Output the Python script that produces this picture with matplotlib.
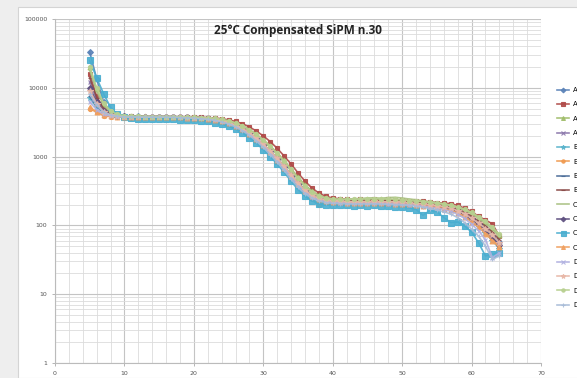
import numpy as np
import matplotlib.pyplot as plt
from matplotlib.patches import Rectangle

# voltage steps 5..64
x = np.arange(5, 65)

A1 = [33000, 13500, 6200, 4500, 4000, 3880, 3820, 3850, 3800, 3780,
      3820, 3790, 3800, 3760, 3730, 3690, 3660, 3580, 3480, 3320,
      3120, 2870, 2560, 2200, 1850, 1500, 1200, 950, 730, 540,
      420, 330, 280, 250, 232, 226, 228, 218, 222, 216,
      224, 220, 218, 224, 214, 218, 210, 214, 202, 198,
      192, 188, 176, 168, 146, 128, 104, 92, 70, 58]
A2 = [16000, 7500, 5000, 4200, 3950, 3880, 3850, 3820, 3800, 3820,
      3790, 3810, 3800, 3790, 3760, 3740, 3720, 3690, 3640, 3560,
      3420, 3250, 3000, 2700, 2350, 2000, 1650, 1320, 1020, 780,
      580, 440, 350, 295, 265, 250, 244, 240, 236, 238,
      234, 240, 236, 238, 232, 235, 228, 230, 224, 220,
      215, 210, 208, 195, 178, 160, 135, 120, 105, 70]
A3 = [20000, 9500, 5800, 4500, 4050, 3900, 3860, 3820, 3830, 3800,
      3810, 3800, 3790, 3770, 3750, 3720, 3690, 3650, 3580, 3460,
      3300, 3080, 2800, 2470, 2120, 1760, 1430, 1130, 880, 660,
      500, 390, 315, 275, 252, 242, 238, 236, 232, 234,
      238, 236, 240, 236, 230, 228, 224, 222, 218, 214,
      208, 202, 194, 182, 168, 150, 130, 112, 92, 72]
A4 = [12000, 6800, 4800, 4200, 3950, 3870, 3830, 3800, 3780, 3790,
      3800, 3780, 3770, 3740, 3710, 3680, 3640, 3580, 3470, 3320,
      3110, 2860, 2550, 2200, 1840, 1490, 1190, 930, 710, 530,
      410, 325, 275, 248, 230, 224, 220, 218, 216, 218,
      216, 220, 216, 214, 214, 210, 208, 204, 200, 196,
      190, 184, 174, 160, 144, 122, 104, 86, 68, 52]
B1 = [7000, 5200, 4300, 4000, 3850, 3800, 3780, 3760, 3740, 3760,
      3750, 3740, 3730, 3700, 3660, 3620, 3560, 3490, 3370, 3200,
      2980, 2720, 2400, 2050, 1700, 1360, 1080, 840, 640, 480,
      370, 300, 258, 235, 222, 216, 214, 212, 210, 212,
      210, 214, 210, 208, 206, 204, 200, 196, 192, 188,
      182, 176, 166, 152, 136, 114, 96, 78, 60, 46]
B2 = [5000, 4400, 3950, 3800, 3780, 3760, 3780, 3770, 3760, 3780,
      3790, 3770, 3760, 3740, 3700, 3670, 3620, 3560, 3450, 3300,
      3090, 2830, 2520, 2160, 1800, 1460, 1170, 910, 700, 520,
      400, 310, 240, 200, 215, 220, 218, 216, 214, 212,
      212, 216, 214, 212, 210, 208, 206, 202, 198, 194,
      188, 182, 172, 158, 140, 120, 100, 82, 64, 48]
B3 = [7500, 5400, 4400, 4050, 3900, 3830, 3800, 3790, 3780, 3790,
      3780, 3780, 3760, 3730, 3700, 3660, 3620, 3560, 3460, 3310,
      3100, 2850, 2540, 2190, 1830, 1480, 1180, 920, 710, 530,
      410, 325, 275, 248, 232, 226, 222, 220, 218, 220,
      218, 222, 218, 218, 216, 212, 210, 206, 202, 198,
      192, 186, 176, 162, 146, 124, 106, 88, 70, 54]
B4 = [14000, 7200, 5000, 4250, 3980, 3880, 3840, 3810, 3800, 3800,
      3800, 3800, 3790, 3770, 3740, 3720, 3690, 3650, 3570, 3450,
      3280, 3050, 2770, 2430, 2080, 1720, 1390, 1100, 850, 640,
      480, 375, 305, 268, 246, 236, 232, 230, 228, 228,
      230, 232, 228, 228, 226, 222, 218, 216, 212, 206,
      200, 194, 184, 172, 156, 136, 116, 98, 80, 62]
C1 = [18000, 9000, 5600, 4400, 4000, 3880, 3850, 3830, 3810, 3800,
      3800, 3800, 3790, 3760, 3740, 3710, 3680, 3640, 3560, 3430,
      3260, 3030, 2740, 2400, 2040, 1680, 1360, 1070, 830, 620,
      470, 365, 300, 264, 245, 238, 236, 240, 244, 246,
      250, 252, 248, 254, 256, 250, 242, 236, 228, 220,
      214, 206, 196, 184, 168, 148, 128, 108, 88, 68]
C2 = [10000, 6200, 4600, 4100, 3900, 3840, 3810, 3790, 3780, 3780,
      3790, 3780, 3770, 3740, 3710, 3680, 3630, 3570, 3470, 3320,
      3110, 2860, 2550, 2200, 1840, 1490, 1190, 930, 710, 530,
      405, 320, 272, 246, 230, 224, 220, 220, 218, 220,
      218, 220, 218, 216, 214, 212, 208, 206, 200, 196,
      190, 184, 176, 160, 144, 122, 104, 86, 68, 52]
C3 = [25000, 14000, 8200, 5200, 4100, 3750, 3600, 3550, 3520, 3500,
      3480, 3500, 3480, 3450, 3420, 3380, 3320, 3240, 3120, 2960,
      2760, 2500, 2200, 1880, 1560, 1260, 1000, 780, 590, 440,
      330, 265, 228, 205, 196, 200, 195, 198, 194, 196,
      192, 196, 190, 194, 188, 186, 180, 170, 140, 165,
      158, 130, 110, 112, 98, 80, 56, 36, 38, 40]
C4 = [5200, 4500, 4000, 3850, 3800, 3780, 3790, 3780, 3770, 3780,
      3780, 3770, 3760, 3730, 3700, 3660, 3610, 3550, 3440, 3290,
      3080, 2820, 2510, 2160, 1800, 1460, 1160, 900, 690, 515,
      395, 315, 265, 240, 226, 220, 216, 214, 212, 214,
      212, 214, 212, 210, 208, 206, 202, 198, 194, 190,
      184, 176, 166, 152, 134, 112, 94, 76, 60, 48]
D1 = [6200, 4800, 4100, 3900, 3820, 3790, 3780, 3770, 3760, 3770,
      3770, 3760, 3750, 3720, 3690, 3650, 3600, 3540, 3430, 3280,
      3070, 2810, 2500, 2150, 1790, 1450, 1150, 890, 680, 505,
      390, 310, 262, 238, 224, 218, 214, 212, 210, 212,
      210, 212, 210, 208, 206, 204, 200, 196, 190, 184,
      178, 170, 160, 145, 126, 104, 84, 62, 34, 40]
D2 = [9000, 5900, 4500, 4050, 3880, 3820, 3800, 3790, 3780, 3790,
      3790, 3780, 3770, 3750, 3720, 3690, 3640, 3580, 3490, 3340,
      3140, 2890, 2580, 2230, 1870, 1520, 1220, 950, 730, 545,
      415, 328, 278, 250, 234, 228, 224, 222, 220, 222,
      222, 224, 220, 220, 218, 216, 212, 208, 204, 200,
      194, 188, 178, 164, 148, 126, 108, 90, 72, 56]
D3 = [20000, 10000, 6000, 4600, 4100, 3920, 3870, 3840, 3820, 3810,
      3810, 3800, 3800, 3780, 3750, 3730, 3700, 3660, 3590, 3470,
      3310, 3090, 2810, 2470, 2110, 1750, 1420, 1120, 870, 650,
      490, 380, 310, 272, 250, 242, 240, 238, 240, 242,
      244, 246, 242, 244, 240, 236, 230, 226, 222, 216,
      210, 204, 196, 186, 172, 154, 134, 114, 94, 74]
D4 = [8000, 5600, 4400, 4000, 3850, 3800, 3780, 3760, 3740, 3750,
      3740, 3730, 3720, 3690, 3650, 3610, 3550, 3480, 3360, 3200,
      2980, 2710, 2390, 2040, 1690, 1360, 1070, 830, 630, 470,
      360, 290, 250, 228, 215, 210, 208, 206, 204, 206,
      204, 206, 204, 202, 200, 198, 196, 190, 184, 176,
      168, 158, 146, 130, 110, 88, 70, 50, 32, 36]

names = ['A1', 'A2', 'A3', 'A4', 'B1', 'B2', 'B3', 'B4',
         'C1', 'C2', 'C3', 'C4', 'D1', 'D2', 'D3', 'D4']
series = [A1, A2, A3, A4, B1, B2, B3, B4, C1, C2, C3, C4, D1, D2, D3, D4]
colors = ['#5a82b8', '#b04a48', '#a0bd6a', '#8a76aa', '#5ab4cc', '#f09a50',
          '#4a6c98', '#8a4a48', '#a8c080', '#5e5080', '#4aaed0', '#f0a060',
          '#b0b0e0', '#e8b8a8', '#b8d090', '#a8bcd8']
markers = ['D', 's', '^', 'x', '*', 'o', '_', '_',
           '', 'D', 's', '^', 'x', '*', 'o', '+']
msizes = [3, 3.5, 3.5, 3, 4, 3, 3, 3, 3, 3, 4.5, 3.5, 3, 4, 3, 3]

fig = plt.figure(figsize=(5.77, 3.78), dpi=100, facecolor='#eeeeee')
fig.patches.append(Rectangle((18 / 577, 0), 1, 1 - 7 / 378, transform=fig.transFigure,
                             facecolor='white', edgecolor='#d4d4d4', lw=0.8, zorder=-5))
ax = fig.add_axes([55 / 577, 1 - 363 / 378, (541 - 55) / 577, (363 - 19) / 378])
ax.set_zorder(2)
ax.set_facecolor('white')

for s, n, c, m, ms in zip(series, names, colors, markers, msizes):
    ax.plot(x, s, color=c, marker=m, markersize=ms, lw=1.2, label=n,
            markeredgewidth=0.8, alpha=0.9)

ax.set_yscale('log')
ax.set_xlim(0, 70)
ax.set_ylim(1, 100000)
ax.set_xticks(range(0, 71, 10))
ax.set_xticks(range(0, 71, 2), minor=True)
ax.grid(True, which='major', color='#c4c4c4', lw=0.8)
ax.grid(True, which='minor', color='#dcdcdc', lw=0.6)
ax.set_axisbelow(True)
ax.set_yticks([1, 10, 100, 1000, 10000, 100000])
ax.set_yticklabels(['1', '10', '100', '1000', '10000', '100000'])
ax.tick_params(which='major', labelsize=4.5, labelcolor='#555555', length=2,
               color='#aaaaaa', width=0.6)
ax.tick_params(which='minor', length=0, labelleft=False)
for sp in ['top', 'right']:
    ax.spines[sp].set_visible(False)
for sp in ['left', 'bottom']:
    ax.spines[sp].set_color('#bbbbbb')
    ax.spines[sp].set_linewidth(0.8)

ax.text(0.5, 0.985, '25°C Compensated SiPM n.30', transform=ax.transAxes,
        ha='center', va='top', fontsize=8.5, fontweight='bold', family='Open Sans',
        color='#222222')

# legend sits at the right edge, labels run off the picture like in the original
leg = fig.legend(loc='upper left', bbox_to_anchor=(557 / 577, 1 - 87 / 378), frameon=False,
                 fontsize=5, labelspacing=1.2, handlelength=1.7, handletextpad=0.6,
                 borderpad=0, borderaxespad=0, markerscale=0.8)
leg.set_zorder(3)

fig.savefig('out.png', dpi=100, facecolor=fig.get_facecolor())
